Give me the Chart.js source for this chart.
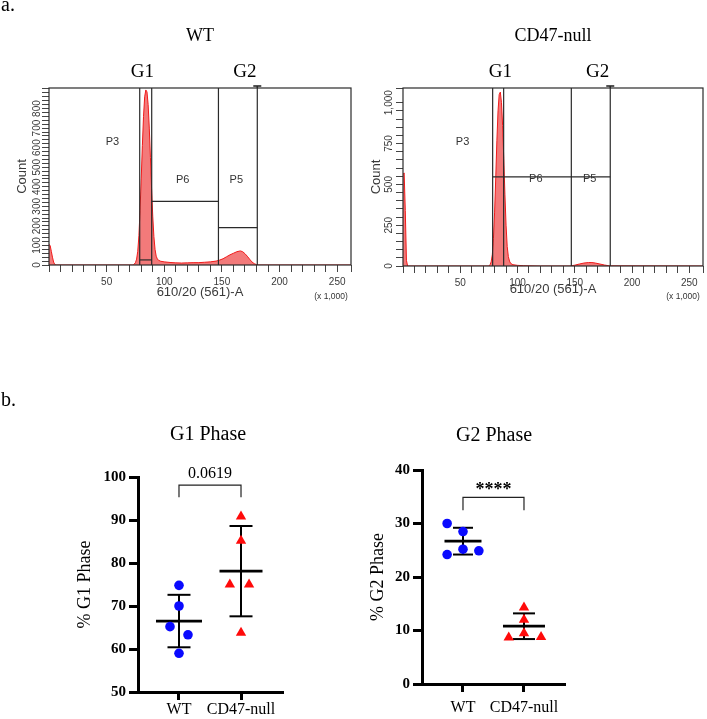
<!DOCTYPE html>
<html><head><meta charset="utf-8">
<script src="https://cdn.jsdelivr.net/npm/chart.js@4.4.1/dist/chart.umd.min.js"></script>
<style>
html,body{margin:0;padding:0;background:#fff;}
#wrap{position:relative;width:707px;height:719px;overflow:hidden;background:#fff;}
canvas{position:absolute;}
</style></head><body>
<div id="wrap">
<canvas id="wt" width="355" height="310" style="left:0;top:0"></canvas>
<canvas id="cd" width="352" height="310" style="left:355px;top:0"></canvas>
<canvas id="g1" width="310" height="339" style="left:0;top:380px"></canvas>
<canvas id="g2" width="387" height="339" style="left:320px;top:380px"></canvas>
</div>
<script>
// ---------------- data ----------------
const flowXTickLabels = [50, 100, 150, 200, 250];
const wtHistX     = [0, 1, 2, 3, 4, 5, 6, 73, 74, 75, 76, 77, 78, 79, 80, 81, 82, 83, 84, 85, 86, 87, 88, 89, 90, 91, 92, 93, 94, 95, 97, 100, 105, 110, 115, 120, 125, 130, 135, 140, 145, 148, 151, 154, 157, 160, 163, 166, 168, 170, 172, 174, 176, 178, 180, 182, 265];
const wtHistCount = [105, 100, 70, 40, 15, 3, 0, 0, 5, 12, 30, 70, 150, 280, 440, 610, 760, 860, 895, 885, 820, 700, 550, 390, 250, 145, 80, 45, 31, 24, 19, 16, 13, 11, 10, 11, 12, 12, 14, 16, 20, 25, 32, 42, 52, 60, 68, 72, 68, 58, 45, 30, 16, 7, 2, 0, 0];
const cdHistX     = [0, 1, 2, 3, 4, 75, 76, 77, 78, 79, 80, 81, 82, 83, 84, 85, 86, 87, 88, 89, 90, 91, 92, 93, 94, 96, 100, 105, 110, 120, 146, 150, 154, 158, 162, 165, 168, 172, 176, 180, 262];
const cdHistCount = [560, 570, 340, 35, 0, 0, 8, 25, 70, 170, 330, 540, 770, 950, 1050, 1065, 1000, 860, 660, 440, 250, 120, 58, 30, 16, 8, 4, 2, 1, 0, 0, 5, 12, 18, 21, 21, 18, 12, 6, 1, 0];
const wtYTickLabels = [0, 100, 200, 300, 400, 500, 600, 700, 800];
const cdYTickLabels = [0, 250, 500, 750, 1000];
const wtGateX = [78.7, 89.1, 147, 180.7];
const cdGateX = [78.3, 87.9, 147, 181];
const wtGateLevel = [325, 191, 26];
const cdGateLevel = [546];

const groups = ['WT', 'CD47-null'];
const g1WT = [74.8, 70.0, 65.2, 63.3, 59.0];
const g1CD = [90.8, 85.2, 75.0, 75.0, 63.8];
const g1Mean = [66.5, 78.1];
const g1SD = [6.1, 10.5];
const g1JitterWT = [0, 0, -0.145, 0.145, 0];
const g1JitterCD = [0, 0, -0.18, 0.13, 0];
const g1Ticks = [50, 60, 70, 80, 90, 100];
const g2WT = [30.0, 28.5, 25.2, 24.9, 24.2];
const g2CD = [14.3, 12.0, 9.5, 8.7, 8.8];
const g2Mean = [26.7, 10.8];
const g2SD = [2.5, 2.4];
const g2JitterWT = [-0.26, 0, 0, 0.26, -0.26];
const g2JitterCD = [0, 0, 0, -0.25, 0.28];
const g2Ticks = [0, 10, 20, 30, 40];

// ---------------- helpers ----------------
const SANS = '"Liberation Sans", Arial, sans-serif';
const SERIF = '"Liberation Serif", "Times New Roman", serif';
function seg(ctx, x1, y1, x2, y2) { ctx.beginPath(); ctx.moveTo(x1, y1); ctx.lineTo(x2, y2); ctx.stroke(); }

function flowChart(id, c) {
  const pts = c.hx.map((x, i) => ({x: x, y: c.hc[i]}));
  const deco = {
    id: 'flowDeco' + id,
    afterDatasetsDraw(chart) {
      const ctx = chart.ctx, ca = chart.chartArea, xs = chart.scales.x, ys = chart.scales.y;
      ctx.save();
      ctx.strokeStyle = '#2a2a2a'; ctx.lineWidth = 1.2;
      ctx.strokeRect(ca.left, ca.top, ca.right - ca.left, ca.bottom - ca.top);
      c.gateX.forEach(g => { const p = xs.getPixelForValue(g); seg(ctx, p, ca.top, p, ca.bottom); });
      const pl = xs.getPixelForValue(c.gateX[c.gateX.length - 1]);
      ctx.lineWidth = 1.6;
      seg(ctx, pl, ca.top - 2, pl, ca.top); seg(ctx, pl - 4, ca.top - 2, pl + 4, ca.top - 2);
      ctx.lineWidth = 1.2;
      c.level.forEach((lv, i) => {
        const py = ys.getPixelForValue(lv);
        seg(ctx, xs.getPixelForValue(c.gateX[c.from[i]]), py, xs.getPixelForValue(c.gateX[c.to[i]]), py);
      });
      ctx.fillStyle = '#333'; ctx.font = '11px ' + SANS; ctx.textAlign = 'center'; ctx.textBaseline = 'middle';
      c.regions.forEach(r => ctx.fillText(r[0], xs.getPixelForValue(r[1]), ys.getPixelForValue(r[2])));
      ctx.restore();
    },
    afterDraw(chart) {
      const ctx = chart.ctx, ca = chart.chartArea, xs = chart.scales.x, ys = chart.scales.y;
      ctx.save();
      ctx.fillStyle = '#3a3a3a'; ctx.font = '10px ' + SANS; ctx.textAlign = 'center'; ctx.textBaseline = 'middle';
      c.yLabels.forEach(v => {
        ctx.save();
        ctx.translate(ca.left - c.yLabOff, ys.getPixelForValue(v));
        ctx.rotate(-Math.PI / 2);
        ctx.fillText(v.toLocaleString('en-US'), 0, 0);
        ctx.restore();
      });
      ctx.font = '8.5px ' + SANS; ctx.fillStyle = '#333';
      ctx.fillText('(x 1,000)', ca.right - 20, 297);
      ctx.fillStyle = '#000'; ctx.font = '18px ' + SERIF;
      ctx.fillText(c.title, (ca.left + ca.right) / 2, 36);
      ctx.font = '19px ' + SERIF;
      ctx.fillText('G1', xs.getPixelForValue(c.g1x), 72);
      ctx.fillText('G2', xs.getPixelForValue(c.g2x), 72);
      if (c.panel) { ctx.textAlign = 'left'; ctx.textBaseline = 'alphabetic'; ctx.font = '20px ' + SERIF; ctx.fillText(c.panel, 1, 11); }
      ctx.restore();
    }
  };
  return new Chart(document.getElementById(id), {
    type: 'line',
    data: {datasets: [{data: pts, borderColor: '#f01a1a', borderWidth: 1, backgroundColor: 'rgba(238,70,70,0.72)', fill: 'origin', pointRadius: 0, tension: 0}]},
    options: {
      responsive: false, animation: false, devicePixelRatio: 1,
      layout: {padding: {top: 88, right: c.padRight, left: 0, bottom: 0}},
      plugins: {legend: {display: false}, tooltip: {enabled: false}},
      scales: {
        x: {type: 'linear', min: 0, max: c.xMax, border: {display: false},
            grid: {display: true, drawOnChartArea: false, drawTicks: true, tickLength: 7, color: '#444', lineWidth: 1},
            ticks: {stepSize: 10, autoSkip: false, maxRotation: 0, minRotation: 0, padding: 4, color: '#3a3a3a',
                    font: {family: SANS, size: 10}, callback: v => flowXTickLabels.includes(v) ? String(v) : ''},
            title: {display: true, text: '610/20 (561)-A', color: '#3a3a3a', font: {family: SANS, size: 13}, padding: {top: 0, bottom: c.xTitlePad}},
            afterFit: s => { s.height = c.xH; }},
        y: {type: 'linear', min: 0, max: c.yMax, border: {display: false},
            grid: {display: true, drawOnChartArea: false, drawTicks: true, tickLength: 7, color: '#444', lineWidth: 1},
            ticks: {display: false, stepSize: c.yStep},
            title: {display: true, text: 'Count', color: '#3a3a3a', font: {family: SANS, size: 13}, padding: {top: c.yTitlePad, bottom: 0}},
            afterFit: s => { s.width = c.yW; }}
      }
    },
    plugins: [deco]
  });
}

function dotChart(id, c) {
  const deco = {
    id: 'dotDeco' + id,
    beforeDatasetsDraw(chart) {
      const ctx = chart.ctx, xs = chart.scales.x, ys = chart.scales.y;
      ctx.save(); ctx.strokeStyle = '#000';
      for (let g = 0; g < 2; g++) {
        const cx = xs.getPixelForValue(g + 1);
        const my = ys.getPixelForValue(c.mean[g]);
        const up = ys.getPixelForValue(c.mean[g] + c.sd[g]);
        const lo = ys.getPixelForValue(c.mean[g] - c.sd[g]);
        ctx.lineWidth = 2;
        seg(ctx, cx, up, cx, lo);
        seg(ctx, cx - c.capHalf[g], up, cx + c.capHalf[g], up);
        seg(ctx, cx - c.capHalf[g], lo, cx + c.capHalf[g], lo);
        ctx.lineWidth = 2.8;
        seg(ctx, cx - c.meanHalf[g], my, cx + c.meanHalf[g], my);
      }
      ctx.restore();
    },
    afterDraw(chart) {
      const ctx = chart.ctx, ca = chart.chartArea, xs = chart.scales.x, ys = chart.scales.y;
      ctx.save();
      const x1 = xs.getPixelForValue(1), x2 = xs.getPixelForValue(2);
      const yb = ys.getPixelForValue(c.bracket[0]), yl = ys.getPixelForValue(c.bracket[1]);
      ctx.strokeStyle = '#222'; ctx.lineWidth = 1.2;
      ctx.beginPath(); ctx.moveTo(x1, yl); ctx.lineTo(x1, yb); ctx.lineTo(x2, yb); ctx.lineTo(x2, yl); ctx.stroke();
      ctx.fillStyle = '#000'; ctx.textAlign = 'center'; ctx.textBaseline = 'middle';
      ctx.font = (c.sigBold ? 'bold ' : '') + c.sigSize + 'px ' + SERIF;
      ctx.fillText(c.sig, (x1 + x2) / 2, c.sigY);
      ctx.font = '20px ' + SERIF;
      ctx.fillText(c.title, (ca.left + ca.right) / 2 + c.titleDx, c.titleY);
      if (c.panel) { ctx.textAlign = 'left'; ctx.textBaseline = 'alphabetic'; ctx.fillText(c.panel, 1, 26); }
      ctx.restore();
    }
  };
  return new Chart(document.getElementById(id), {
    type: 'scatter',
    data: {datasets: [
      {data: c.wt.map((v, i) => ({x: 1 + c.jw[i], y: v})), pointStyle: 'circle', pointRadius: 4.8, borderWidth: 0, backgroundColor: '#0a0aff', borderColor: '#0a0aff', clip: false},
      {data: c.cd.map((v, i) => ({x: 2 + c.jc[i], y: v})), pointStyle: 'triangle', pointRadius: 6, borderWidth: 0, backgroundColor: '#ff0a0a', borderColor: '#ff0a0a', clip: false}
    ]},
    options: {
      responsive: false, animation: false, devicePixelRatio: 1,
      layout: {padding: {top: c.padTop, right: c.padRight, left: 0, bottom: 0}},
      plugins: {legend: {display: false}, tooltip: {enabled: false}},
      scales: {
        x: {type: 'linear', min: c.xMin, max: c.xMax,
            afterBuildTicks: s => { s.ticks = [{value: 1}, {value: 2}]; },
            border: {display: true, width: 3, color: '#000'},
            grid: {display: true, drawOnChartArea: false, drawTicks: true, tickLength: 8, lineWidth: 3, color: '#000'},
            ticks: {autoSkip: false, maxRotation: 0, minRotation: 0, padding: c.xTickPad, color: '#000',
                    font: {family: SERIF, size: 16}, callback: v => groups[v - 1]},
            afterFit: s => { s.height = c.xH; }},
        y: {type: 'linear', min: c.yTicks[0], max: c.yTicks[c.yTicks.length - 1],
            afterBuildTicks: s => { s.ticks = c.yTicks.map(v => ({value: v})); },
            border: {display: true, width: 3, color: '#000'},
            grid: {display: true, drawOnChartArea: false, drawTicks: true, tickLength: 9, lineWidth: 3, color: '#000'},
            ticks: {padding: 3, color: '#000', font: {family: SERIF, size: 15, weight: 'bold'}},
            title: {display: true, text: c.yTitle, color: '#000', font: {family: SERIF, size: 18}, padding: {top: c.yTitlePad, bottom: 0}},
            afterFit: s => { s.width = c.yW; }}
      }
    },
    plugins: [deco]
  });
}

// ---------------- charts ----------------
flowChart('wt', {
  hx: wtHistX, hc: wtHistCount, xMax: 262, yMax: 905, yStep: 20, yLabels: wtYTickLabels, yLabOff: 12,
  gateX: wtGateX, level: wtGateLevel, from: [1, 2, 0], to: [2, 3, 1],
  regions: [['P3', 55, 630], ['P6', 116, 436], ['P5', 162.5, 436]],
  title: 'WT', g1x: 81, g2x: 170, panel: 'a.',
  padRight: 3, xH: 45, yW: 49, xTitlePad: 10, yTitlePad: 15
});
flowChart('cd', {
  hx: cdHistX, hc: cdHistCount, xMax: 262, yMax: 1090, yStep: 50, yLabels: cdYTickLabels, yLabOff: 14,
  gateX: cdGateX, level: cdGateLevel, from: [0], to: [3],
  regions: [['P3', 52, 762], ['P6', 116, 532], ['P5', 163, 532]],
  title: 'CD47-null', g1x: 85, g2x: 170, panel: null,
  padRight: 3, xH: 44, yW: 48, xTitlePad: 13, yTitlePad: 14
});
dotChart('g1', {
  wt: g1WT, cd: g1CD, jw: g1JitterWT, jc: g1JitterCD, mean: g1Mean, sd: g1SD, yTicks: g1Ticks,
  meanHalf: [23, 21.5], capHalf: [11.5, 11.5],
  xMin: 0.339, xMax: 2.661, padTop: 97, padRight: 28, xH: 27, yW: 138, xTickPad: 0, yTitlePad: 74,
  yTitle: '% G1 Phase', bracket: [98.1, 95.3], sig: '0.0619', sigBold: false, sigSize: 16, sigY: 94,
  title: 'G1 Phase', titleDx: -2, titleY: 55, panel: 'b.'
});
dotChart('g2', {
  wt: g2WT, cd: g2CD, jw: g2JitterWT, jc: g2JitterCD, mean: g2Mean, sd: g2SD, yTicks: g2Ticks,
  meanHalf: [18.5, 21], capHalf: [10, 11],
  xMin: 0.328, xMax: 2.656, padTop: 90, padRight: 143, xH: 35, yW: 102, xTickPad: 6, yTitlePad: 47,
  yTitle: '% G2 Phase', bracket: [34.9, 32.5], sig: '****', sigBold: true, sigSize: 18, sigY: 110,
  title: 'G2 Phase', titleDx: 1, titleY: 56, panel: null
});
</script>
</body></html>
